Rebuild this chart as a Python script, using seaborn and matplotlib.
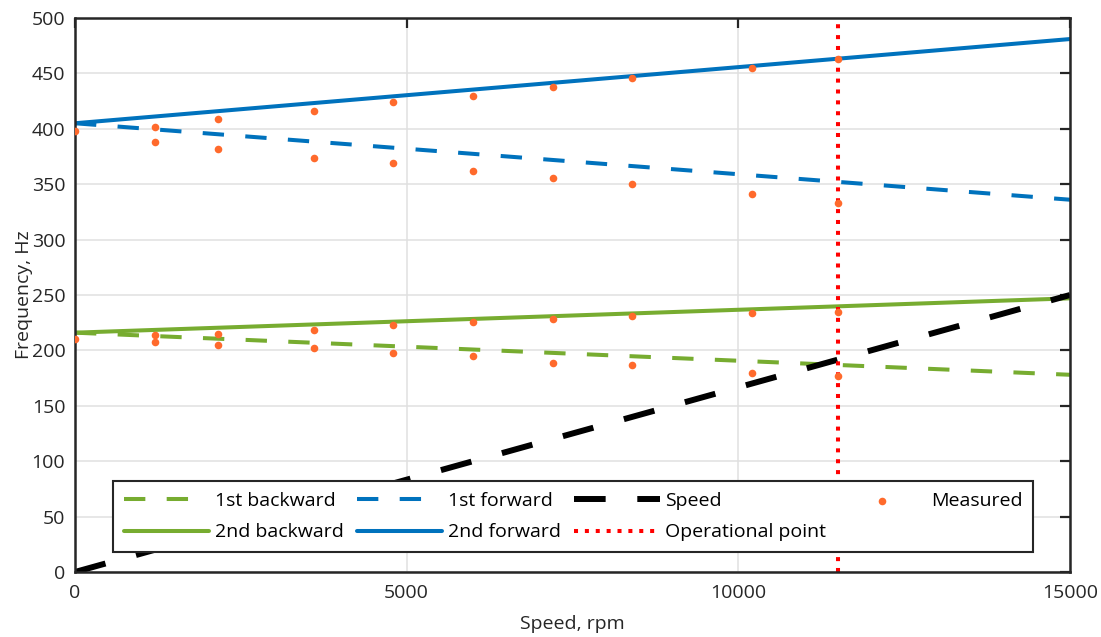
import numpy as np
import pandas as pd
import matplotlib
matplotlib.use("Agg")
import matplotlib.pyplot as plt
import seaborn as sns

# model curves (end points), Hz vs rpm
rpm_range = [0, 15000]
first_backward = [216, 178]
second_backward = [216, 247]
first_forward = [405, 336]
second_forward = [405, 481]
speed_hz = [0, 250]
op_speed = 11500

# measured points
meas_rpm = [0, 1200, 2160, 3600, 4800, 6000, 7200, 8400, 10200, 11500]
meas_2f = [398, 402, 409, 416, 424, 430, 438, 446, 455, 463]
meas_1f = [np.nan, 388, 382, 374, 369, 362, 356, 350, 341, 333]
meas_2b = [210, 214, 215, 218, 223, 226, 228, 231, 234, 235]
meas_1b = [np.nan, 208, 205, 202, 198, 195, 189, 187, 180, 177]

blue = "#0072BD"
green = "#77AC30"
orange = "#FF6A2C"
dark = "#262626"

sns.set_style("white")
plt.rcParams["font.family"] = ["Open Sans", "DejaVu Sans"]

fig, ax = plt.subplots(figsize=(11.01, 6.37), dpi=100)
fig.subplots_adjust(left=75 / 1101, right=1070 / 1101, top=1 - 18 / 637, bottom=1 - 572 / 637)

lw = 2.9
dash = (0, (5.3, 5.3))
sns.lineplot(x=rpm_range, y=first_backward, color=green, lw=lw, linestyle=dash, label="1st backward", legend=False, ax=ax)
sns.lineplot(x=rpm_range, y=second_backward, color=green, lw=lw, label="2nd backward", legend=False, ax=ax)
sns.lineplot(x=rpm_range, y=first_forward, color=blue, lw=lw, linestyle=dash, label="1st forward", legend=False, ax=ax)
sns.lineplot(x=rpm_range, y=second_forward, color=blue, lw=lw, label="2nd forward", legend=False, ax=ax)
sns.lineplot(x=rpm_range, y=speed_hz, color="black", lw=4.3, linestyle=dash, label="Speed", legend=False, ax=ax)
ax.axvline(op_speed, color="#FF0000", lw=2.9, linestyle=(0, (1, 1.7)), label="Operational point")

meas = pd.DataFrame({
    "rpm": meas_rpm * 4,
    "freq": meas_2f + meas_1f + meas_2b + meas_1b,
}).dropna()
sns.scatterplot(data=meas, x="rpm", y="freq", color=orange, s=30, linewidth=0, label="Measured", legend=False, ax=ax, zorder=5)

ax.set_xlim(0, 15000)
ax.set_ylim(0, 500)
ax.set_xticks([0, 5000, 10000, 15000])
ax.set_yticks(np.arange(0, 501, 50))
ax.grid(True, color="#E0E0E0", lw=1.1)
ax.set_axisbelow(True)
ax.tick_params(direction="in", length=7, width=1.6, colors=dark, labelsize=14,
               top=True, right=True, pad=7)
ax.tick_params(axis="x", pad=9)
for s in ax.spines.values():
    s.set_color(dark)
    s.set_linewidth(1.8)
ax.set_xlabel("Speed, rpm", fontsize=14, color=dark, labelpad=9)
ax.set_ylabel("Frequency, Hz", fontsize=14, color=dark, labelpad=-1)

handles, labels = ax.get_legend_handles_labels()
leg = ax.legend(handles, labels, ncol=4, loc="upper left",
                bbox_to_anchor=(113 / 1101, 1 - 551 / 637, 920 / 1101, 70 / 637),
                bbox_transform=fig.transFigure, mode="expand", fontsize=14,
                handlelength=4.4, handletextpad=0.3, borderaxespad=0,
                fancybox=False, frameon=True, edgecolor=dark, framealpha=1,
                labelspacing=0.7, borderpad=0.55)
leg.get_frame().set_linewidth(1.5)
for t in leg.get_texts():
    t.set_color("black")

fig.savefig("out.png", dpi=100)
